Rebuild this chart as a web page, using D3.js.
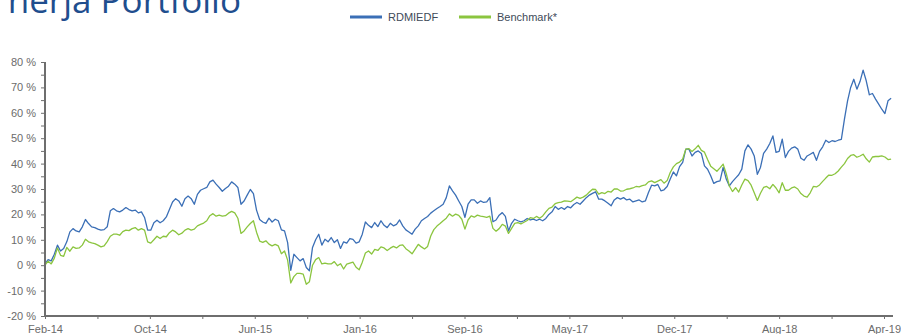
<!DOCTYPE html>
<html>
<head>
<meta charset="utf-8">
<script src="https://cdn.jsdelivr.net/npm/d3@7"></script>
<style>
  html, body { margin: 0; padding: 0; background: #fff; overflow: hidden; }
  svg { display: block; }
</style>
</head>
<body>
<svg id="chart" width="901" height="334"></svg>
<script>
// Cumulative performance (%) since start, weekly observations
const titleText = "nerja Portfolio";
const seriesNames = ["RDMIEDF", "Benchmark*"];
const startDate = "2014-02-14";
const stepDays = 7;

const rdmiedf = [
  0.5, 2.2, 1.7, 4.3, 7.9, 5.6, 6.6, 9.2, 13.1, 14.4,
  13.5, 13.1, 15.1, 18, 16.4, 15.1, 14.8, 14.2, 13.8, 14,
  15.1, 21.4, 22.3, 21.4, 21, 21.7, 22.7, 21.9, 21.4, 21.7,
  20.6, 21, 18.8, 13.8, 13.8, 16.7, 17.7, 16.7, 17.5, 19,
  21.9, 24.9, 26.2, 25.3, 23.2, 26.2, 27.2, 26.2, 24, 27.9,
  29.5, 30.1, 30.6, 32.8, 33.5, 31.9, 30.6, 29.1, 30.2, 31.1,
  32.8, 31.9, 30.6, 24, 25.3, 27.6, 29.8, 28.2, 21.7, 18,
  17, 16.5, 18.5, 17, 18.1, 17.5, 13.9, 13.5, 8.9, -2,
  4.3, 3, 1.7, 2.6, -0.9, -2.2, 7, 10, 12.2, 7.9,
  10.2, 9.2, 10.9, 8.9, 10, 6.6, 9.2, 8.7, 10.5, 10.2,
  8.7, 9.2, 12.2, 17, 15.7, 14.8, 16.8, 15.2, 17.5, 15.7,
  14.8, 16.5, 15.5, 16.1, 17.8, 15.5, 13.9, 13.1, 12.2, 14.2,
  15.5, 17.5, 18.4, 19.2, 20.5, 21.4, 22.3, 23.1, 24, 26.6,
  31.2, 29.3, 27.6, 25.3, 23.1, 18.8, 24, 25.7, 25.7, 24.4,
  25.3, 24.7, 24.9, 26.6, 17.1, 17.8, 19.7, 20.7, 19.2, 13.5,
  16.5, 18.1, 17.5, 17.1, 17.5, 18.4, 17.8, 18.1, 17.6, 18.1,
  17.5, 18.4, 20, 21, 23.1, 22, 22.7, 22, 23.1, 22.6,
  23.9, 24.7, 24, 25.3, 26.6, 27.6, 28.3, 28.9, 26, 26,
  25.3, 24.4, 23.4, 25.7, 26.6, 26, 26.6, 25.7, 26, 24.9,
  25.3, 25.7, 24.9, 25.3, 28.6, 31.5, 31.2, 31.8, 29.3, 29.7,
  31, 33.9, 36.7, 35.2, 38.8, 40.5, 45.7, 45.7, 43, 44.4,
  45, 44, 39.1, 37.8, 35.2, 32.2, 32.9, 33.2, 38.5, 33.9,
  31.2, 32.9, 34.3, 35.6, 37.8, 45, 47.4, 45.7, 43, 35.8,
  38.5, 44, 45.7, 47.9, 50.9, 44.4, 44.8, 49.6, 42.4, 44.8,
  46.1, 46.6, 45.7, 42.1, 41.3, 43, 43.7, 44.4, 41.3, 44.8,
  46.6, 49.2, 48.3, 49, 48.7, 49.2, 49.5, 57.5, 64.7, 70,
  73.2, 69.3, 72.3, 76.8, 72.6, 67.1, 67.6, 65.4, 63.4, 61.4,
  59.7, 64.7, 65.7
];

const benchmark = [
  0, 1.6, 0.5, 2.8, 6.8, 3.9, 3.5, 7, 5.5, 7.2,
  6.6, 6.8, 7.9, 10.2, 9.2, 8.8, 8.5, 7.9, 7.2, 7.6,
  9.3, 11.4, 12.2, 12.2, 11.8, 13.2, 13.8, 13.6, 14.4, 14.8,
  13.8, 14.4, 13.8, 9.2, 8.7, 10, 11.4, 10.5, 11.4, 11.2,
  12.8, 13.8, 13.1, 12, 12.6, 13.8, 14.4, 13.8, 14.2, 15.5,
  16.1, 16.6, 17.5, 19.5, 20.3, 19.3, 19.7, 19.3, 19.5, 20.5,
  21.2, 20.6, 18.5, 12.5, 13.5, 15.1, 16.4, 17.5, 13, 9.5,
  9, 9.6, 8.3, 7.6, 8.2, 7.6, 4.5, 5.6, 2, -7,
  -4.5, -3.2, -3.2, -3.5, -7.5, -6.5, 0, 2.2, 3, 0.5,
  0.8, 0.5, 0.5, 1.4, -0.2, 0.6, -1.5, 0.4, 0.8, 1.2,
  -0.8, -1.8, 1.2, 4.8, 5.6, 4.4, 6.2, 5.8, 7.2, 6.8,
  5.8, 6.7, 7.4, 6.8, 7.8, 8, 6.5, 5.6, 4.5, 6.3,
  8.2, 7.2, 6.4, 7.4, 11.5, 14, 15.4, 16.4, 17.5, 18.5,
  20.2, 19.3, 20.1, 19.6, 18.1, 14.2, 17.8, 19.4, 18.9, 19.7,
  19.3, 19.1, 18.8, 19.3, 14.5, 13.4, 14.4, 16.1, 15.4, 12.5,
  14.5, 16.5, 16.8, 16.3, 16.9, 17.6, 18.7, 18.4, 19.2, 18.5,
  19.4, 21, 22.4, 22.9, 24.2, 24.6, 24.8, 25.3, 25.2, 25,
  25.9, 26.8, 26.3, 26.8, 27.6, 28.8, 29.9, 29.8, 28, 28.6,
  28.2, 29.1, 28.8, 30, 30, 29.2, 29.3, 29.9, 30.1, 30.4,
  31, 30.8, 31.3, 31.6, 32.8, 33.2, 32.5, 33.1, 33.7, 32.3,
  33.3, 36.5, 38.7, 40, 40.6, 41.8, 45.7, 45.9, 44.8, 45.8,
  47.2, 45.2, 44.5, 41.6, 39, 38, 37, 38.3, 39.8, 36,
  31.2, 29, 30.5, 28.8, 31.6, 33.9, 33.3, 31.5, 28.5, 25.5,
  28.3, 30.6, 31, 30.1, 31.8, 30.4, 28.5, 32.5, 29.5, 29.5,
  30.4, 30.8, 30, 28.2, 27.2, 26.8, 28.5, 31, 30.8, 31.6,
  33, 34.3, 35.5, 35.4, 36, 37.1, 38.6, 40, 42, 43.2,
  43.5, 42.5, 43, 43.7, 41.9, 40.6, 42.6, 42.8, 42.8, 43,
  42.6, 41.6, 41.8
];

const xTickLabels = ["Feb-14", "Oct-14", "Jun-15", "Jan-16", "Sep-16", "May-17", "Dec-17", "Aug-18", "Apr-19"];
const yRange = [-20, 80];

// ---- layout ----
const colors = ["#3b6fb6", "#8bc53f"];
const plot = { left: 45, right: 884, top: 62, bottom: 316 };
const labelStepDays = 236;   // spacing of labelled x ticks

const svg = d3.select("#chart");
const start = d3.utcParse("%Y-%m-%d")(startDate);
const dates = rdmiedf.map((_, i) => d3.utcDay.offset(start, i * stepDays));
const xEnd = d3.utcDay.offset(start, labelStepDays * (xTickLabels.length - 1));

const x = d3.scaleUtc().domain([start, xEnd]).range([plot.left, plot.right]);
const y = d3.scaleLinear().domain(yRange).range([plot.bottom, plot.top]);

// Title
svg.append("text")
  .attr("x", 241).attr("y", 13)
  .attr("text-anchor", "end")
  .attr("font-family", "'Open Sans', sans-serif")
  .attr("font-size", 35)
  .attr("fill", "#1f4e8e")
  .text(titleText);

// Legend
const legendX = [350, 459];
seriesNames.forEach((name, k) => {
  const g = svg.append("g").attr("transform", `translate(${legendX[k]},17)`);
  g.append("line").attr("x1", 0).attr("x2", 32).attr("y1", 0).attr("y2", 0)
    .attr("stroke", colors[k]).attr("stroke-width", 3);
  g.append("text").attr("x", 38).attr("y", 4)
    .attr("font-family", "'Liberation Sans', Arial, sans-serif")
    .attr("font-size", 11).attr("fill", "#404a58")
    .text(name);
});

// Series lines (first series drawn first, second on top)
const line = d3.line().x((d, i) => x(dates[i])).y(d => y(d));
[rdmiedf, benchmark].forEach((vals, k) => {
  svg.append("path")
    .datum(vals)
    .attr("fill", "none")
    .attr("stroke", colors[k])
    .attr("stroke-width", 1.3)
    .attr("stroke-linejoin", "round")
    .attr("d", line);
});

// Y axis
const yTicks = d3.range(yRange[0], yRange[1] + 1, 5);
const yAxis = d3.axisLeft(y)
  .tickValues(yTicks)
  .tickSize(4)
  .tickPadding(5)
  .tickFormat(d => (d % 10 === 0 ? `${d} %` : ""));
const gy = svg.append("g").attr("transform", `translate(${plot.left},0)`).call(yAxis);

// X axis: labelled ticks plus an unlabelled tick halfway between each pair
const xTicks = d3.range(0, (xTickLabels.length - 1) * 2 + 1)
  .map(k => d3.utcDay.offset(start, k * labelStepDays / 2));
const xAxis = d3.axisBottom(x)
  .tickValues(xTicks)
  .tickSize(3)
  .tickPadding(6)
  .tickFormat((d, i) => (i % 2 === 0 ? xTickLabels[i / 2] : ""));
const gx = svg.append("g").attr("transform", `translate(0,${plot.bottom})`).call(xAxis);

// Extend the bottom axis line slightly past the last tick
gx.select(".domain").attr("d", `M${plot.left},0H893`);
gy.select(".domain").attr("d", `M0,${plot.top}V${plot.bottom}`);

[gx, gy].forEach(g => {
  g.select(".domain").attr("stroke", "#6e6e6e").attr("stroke-width", 2);
  g.selectAll(".tick line").attr("stroke", "#6e6e6e").attr("stroke-width", 1);
  g.selectAll(".tick text")
    .attr("font-family", "'Liberation Sans', Arial, sans-serif")
    .attr("font-size", 11)
    .attr("fill", "#6b6b6b");
});
</script>
</body>
</html>
